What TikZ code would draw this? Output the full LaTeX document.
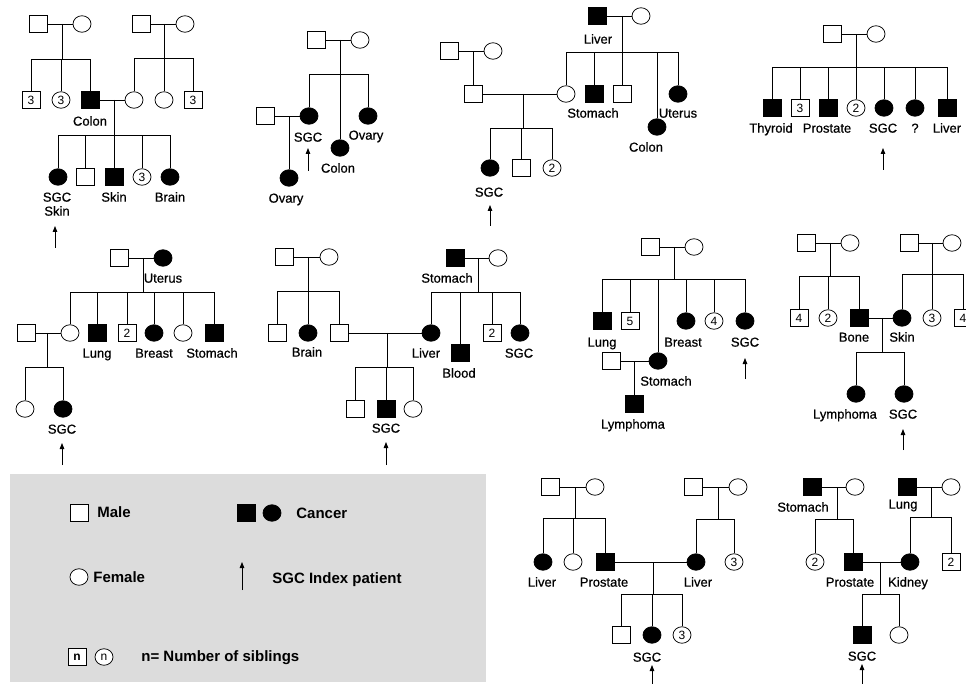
\documentclass[tikz,border=0pt]{standalone}
\usepackage{fontspec}
\setmainfont{Liberation Sans}
\newfontfamily\lblfam{Liberation Sans}[FakeBold=0.6]
\usepackage{tikz}
\usetikzlibrary{positioning, arrows.meta, shapes.geometric}
\definecolor{legbg}{RGB}{220,220,220}
\newcommand{\lblfont}{\lblfam\fontsize{13}{15}\selectfont}
\newcommand{\numfont}{\fontsize{12}{14}\selectfont}
\newcommand{\legfont}{\fontsize{15}{17}\selectfont\bfseries}
\tikzset{
  male/.style={draw, rectangle, minimum width=18pt, minimum height=17pt, inner sep=0pt, fill=white, font=\numfont},
  female/.style={draw, ellipse, minimum width=18pt, minimum height=16.5pt, inner sep=0pt, fill=white, font=\numfont},
  ill/.style={fill=black},
  lbl/.style={font=\lblfont, inner sep=0pt, text height=9.3pt, text depth=0pt},
  leg/.style={font=\legfont, anchor=west, inner sep=0pt, text height=10.8pt, text depth=0pt},
  idx/.style={-{Triangle[length=6pt,width=4.5pt]}, line width=0.8pt}
}

\begin{document}
\begin{tikzpicture}[x=1pt, y=-1pt, line width=0.75pt]
\fill[white] (0,0) rectangle (966,684);
\useasboundingbox (0,0) rectangle (966,684);
% --- Pedigree 1 ---
\node[male] (a1) at (38,24) {};
\node[female] (a2) at (82,24) {};
\draw (a1) -- (a2);
\coordinate (as1) at (62,59);
\draw (as1 |- a1) -- (as1);
\node[male] (a3) at (31,100) {3};
\node[female] (a4) at (61,100) {3};
\node[male, ill] (a5) at (90,100) {};
\draw (a3 |- as1) -- (a5 |- as1);
\foreach \c in {a3,a4,a5} \draw (\c) -- (\c |- as1);
\node[lbl] (a5l) at (90,121) {Colon};
\node[male] (a6) at (141,24) {};
\node[female] (a7) at (185,24) {};
\draw (a6) -- (a7);
\coordinate (as2) at (164,58);
\draw (as2 |- a6) -- (as2);
\node[female] (a8) at (134,100) {};
\node[female] (a9) at (164,100) {};
\node[male] (a10) at (193,100) {3};
\draw (a8 |- as2) -- (a10 |- as2);
\foreach \c in {a8,a9,a10} \draw (\c) -- (\c |- as2);
\draw (a5) -- (a8);
\coordinate (as3) at (114,135);
\draw (as3 |- a5) -- (as3);
\node[female, ill] (a11) at (58,177) {};
\node[male] (a12) at (85,177) {};
\node[male, ill] (a13) at (114,177) {};
\node[female] (a14) at (142,177) {3};
\node[female, ill] (a15) at (170,177) {};
\draw (a11 |- as3) -- (a15 |- as3);
\foreach \c in {a11,a12,a13,a14,a15} \draw (\c) -- (\c |- as3);
\node[lbl] (a11l) at (57,197) {SGC};
\node[lbl] (a11m) at (57,211) {Skin};
\node[lbl] (a13l) at (114,197) {Skin};
\node[lbl] (a15l) at (170,197) {Brain};
\coordinate (ar1) at (55,248);
\draw[idx] (ar1) -- ++(0,-22);

% --- Pedigree 2 ---
\node[male] (b1) at (316,40) {};
\node[female] (b2) at (360,40) {};
\draw (b1) -- (b2);
\coordinate (bs1) at (340,74);
\draw (bs1 |- b1) -- (bs1);
\node[female, ill] (b3) at (309,116) {};
\node[female, ill] (b4) at (340,148) {};
\node[female, ill] (b5) at (368,116) {};
\draw (b3 |- bs1) -- (b5 |- bs1);
\foreach \c in {b3,b4,b5} \draw (\c) -- (\c |- bs1);
\node[lbl] (b3l) at (308,137) {SGC};
\node[lbl] (b4l) at (338,168) {Colon};
\node[lbl] (b5l) at (366,135) {Ovary};
\node[male] (b6) at (265,116) {};
\draw (b6) -- (b3);
\node[female, ill] (b7) at (289,178) {};
\draw (b7) -- (b7 |- b6);
\node[lbl] (b7l) at (286,198) {Ovary};
\coordinate (ar2) at (308,171);
\draw[idx] (ar2) -- ++(0,-23);

% --- Pedigree 3 ---
\node[male, ill] (c1) at (597,16) {};
\node[female] (c2) at (641,16) {};
\draw (c1) -- (c2);
\node[lbl] (c1l) at (598,39) {Liver};
\coordinate (cs1) at (622,52);
\draw (cs1 |- c1) -- (cs1);
\node[female] (c3) at (566,94) {};
\node[male, ill] (c4) at (594,94) {};
\node[male] (c5) at (622,94) {};
\node[female, ill] (c6) at (657,127) {};
\node[female, ill] (c7) at (678,94) {};
\draw (c3 |- cs1) -- (c7 |- cs1);
\foreach \c in {c3,c4,c5,c6,c7} \draw (\c) -- (\c |- cs1);
\node[lbl] (c4l) at (593,113) {Stomach};
\node[lbl] (c7l) at (678,113) {Uterus};
\node[lbl] (c6l) at (646,147) {Colon};
\node[male] (c8) at (449,51) {};
\node[female] (c9) at (493,51) {};
\draw (c8) -- (c9);
\node[male] (c10) at (473,94) {};
\draw (c10) -- (c10 |- c8);
\draw (c10) -- (c3);
\coordinate (cs2) at (523,128);
\draw (cs2 |- c10) -- (cs2);
\node[female, ill] (c11) at (490,168) {};
\node[male] (c12) at (521,168) {};
\node[female] (c13) at (552,168) {2};
\draw (c11 |- cs2) -- (c13 |- cs2);
\foreach \c in {c11,c12,c13} \draw (\c) -- (\c |- cs2);
\node[lbl] (c11l) at (489,192) {SGC};
\coordinate (ar3) at (490,226);
\draw[idx] (ar3) -- ++(0,-21);

% --- Pedigree 4 ---
\node[male] (d1) at (832,34) {};
\node[female] (d2) at (876,34) {};
\draw (d1) -- (d2);
\coordinate (ds1) at (856,67);
\draw (ds1 |- d1) -- (ds1);
\node[male, ill] (d3) at (772,108) {};
\node[male] (d4) at (800,108) {3};
\node[male, ill] (d5) at (828,108) {};
\node[female] (d6) at (856,108) {2};
\node[female, ill] (d7) at (884,108) {};
\node[female, ill] (d8) at (915,108) {};
\node[male, ill] (d9) at (947,108) {};
\draw (d3 |- ds1) -- (d9 |- ds1);
\foreach \c in {d3,d4,d5,d6,d7,d8,d9} \draw (\c) -- (\c |- ds1);
\node[lbl] (d3l) at (771,128) {Thyroid};
\node[lbl] (d5l) at (827,128) {Prostate};
\node[lbl] (d7l) at (883,128) {SGC};
\node[lbl] (d8l) at (915,128) {?};
\node[lbl] (d9l) at (947,128) {Liver};
\coordinate (ar4) at (883,170);
\draw[idx] (ar4) -- ++(0,-22);

% --- Pedigree 5 ---
\node[male] (e1) at (119,258) {};
\node[female, ill] (e2) at (163,258) {};
\draw (e1) -- (e2);
\node[lbl] (e2l) at (163,278) {Uterus};
\coordinate (es1) at (143,292);
\draw (es1 |- e1) -- (es1);
\node[female] (e3) at (70,333) {};
\node[male, ill] (e4) at (97,333) {};
\node[male] (e5) at (127,333) {2};
\node[female, ill] (e6) at (154,333) {};
\node[female] (e7) at (183,333) {};
\node[male, ill] (e8) at (214,333) {};
\draw (e3 |- es1) -- (e8 |- es1);
\foreach \c in {e3,e4,e5,e6,e7,e8} \draw (\c) -- (\c |- es1);
\node[lbl] (e4l) at (97,353) {Lung};
\node[lbl] (e6l) at (154,353) {Breast};
\node[lbl] (e8l) at (212,353) {Stomach};
\node[male] (e9) at (26,333) {};
\draw (e9) -- (e3);
\coordinate (es2) at (47,367);
\draw (es2 |- e9) -- (es2);
\node[female] (e10) at (25,409) {};
\node[female, ill] (e11) at (63,409) {};
\draw (e10 |- es2) -- (e11 |- es2);
\foreach \c in {e10,e11} \draw (\c) -- (\c |- es2);
\node[lbl] (e11l) at (62,429) {SGC};
\coordinate (ar5) at (62,465);
\draw[idx] (ar5) -- ++(0,-22);

% --- Pedigree 6 ---
\node[male] (f1) at (284,257) {};
\node[female] (f2) at (329,257) {};
\draw (f1) -- (f2);
\coordinate (fs1) at (308,291);
\draw (fs1 |- f1) -- (fs1);
\node[male] (f3) at (277,333) {};
\node[female, ill] (f4) at (308,333) {};
\node[male] (f5) at (339,333) {};
\draw (f3 |- fs1) -- (f5 |- fs1);
\foreach \c in {f3,f4,f5} \draw (\c) -- (\c |- fs1);
\node[lbl] (f4l) at (307,352) {Brain};
\node[male, ill] (f6) at (455,258) {};
\node[female] (f7) at (498,258) {};
\draw (f6) -- (f7);
\node[lbl] (f6l) at (447,278) {Stomach};
\coordinate (fs2) at (478,292);
\draw (fs2 |- f6) -- (fs2);
\node[female, ill] (f8) at (431,333) {};
\node[male, ill] (f9) at (460,353) {};
\node[male] (f10) at (492,333) {2};
\node[female, ill] (f11) at (520,333) {};
\draw (f8 |- fs2) -- (f11 |- fs2);
\foreach \c in {f8,f9,f10,f11} \draw (\c) -- (\c |- fs2);
\node[lbl] (f8l) at (426,353) {Liver};
\node[lbl] (f9l) at (459,373) {Blood};
\node[lbl] (f11l) at (519,353) {SGC};
\draw (f5) -- (f8);
\coordinate (fs3) at (387,367);
\draw (fs3 |- f5) -- (fs3);
\node[male] (f12) at (355,409) {};
\node[male, ill] (f13) at (386,409) {};
\node[female] (f14) at (413,409) {};
\draw (f12 |- fs3) -- (f14 |- fs3);
\foreach \c in {f12,f13,f14} \draw (\c) -- (\c |- fs3);
\node[lbl] (f13l) at (386,428) {SGC};
\coordinate (ar6) at (386,465);
\draw[idx] (ar6) -- ++(0,-23);

% --- Pedigree 7 ---
\node[male] (g1) at (650,247) {};
\node[female] (g2) at (694,247) {};
\draw (g1) -- (g2);
\coordinate (gs1) at (674,279);
\draw (gs1 |- g1) -- (gs1);
\node[male, ill] (g3) at (602,321) {};
\node[male] (g4) at (630,321) {5};
\node[female, ill] (g5) at (658,361) {};
\node[female, ill] (g6) at (686,321) {};
\node[female] (g7) at (714,321) {4};
\node[female, ill] (g8) at (745,321) {};
\draw (g3 |- gs1) -- (g8 |- gs1);
\foreach \c in {g3,g4,g5,g6,g7,g8} \draw (\c) -- (\c |- gs1);
\node[lbl] (g3l) at (602,342) {Lung};
\node[lbl] (g6l) at (683,342) {Breast};
\node[lbl] (g8l) at (745,342) {SGC};
\coordinate (ar7) at (745,379);
\draw[idx] (ar7) -- ++(0,-21);
\node[male] (g9) at (611,361) {};
\draw (g9) -- (g5);
\node[male, ill] (g10) at (634,404) {};
\draw (g10) -- (g10 |- g9);
\node[lbl] (g5l) at (666,381) {Stomach};
\node[lbl] (g10l) at (633,424) {Lymphoma};

% --- Pedigree 8 ---
\node[male] (h1) at (806,243) {};
\node[female] (h2) at (850,243) {};
\draw (h1) -- (h2);
\coordinate (hs1) at (830,276);
\draw (hs1 |- h1) -- (hs1);
\node[male] (h3) at (799,318) {4};
\node[female] (h4) at (828,318) {2};
\node[male, ill] (h5) at (859,318) {};
\draw (h3 |- hs1) -- (h5 |- hs1);
\foreach \c in {h3,h4,h5} \draw (\c) -- (\c |- hs1);
\node[male] (h6) at (909,243) {};
\node[female] (h7) at (952,243) {};
\draw (h6) -- (h7);
\coordinate (hs2) at (932,274);
\draw (hs2 |- h6) -- (hs2);
\node[female, ill] (h8) at (902,318) {};
\node[female] (h9) at (932,318) {3};
\node[male] (h10) at (963,318) {4};
\draw (h8 |- hs2) -- (h10 |- hs2);
\foreach \c in {h8,h9,h10} \draw (\c) -- (\c |- hs2);
\node[lbl] (h5l) at (854,337) {Bone};
\node[lbl] (h8l) at (902,337) {Skin};
\draw (h5) -- (h8);
\coordinate (hs3) at (882,352);
\draw (hs3 |- h5) -- (hs3);
\node[female, ill] (h11) at (856,394) {};
\node[female, ill] (h12) at (904,394) {};
\draw (h11 |- hs3) -- (h12 |- hs3);
\foreach \c in {h11,h12} \draw (\c) -- (\c |- hs3);
\node[lbl] (h11l) at (845,414) {Lymphoma};
\node[lbl] (h12l) at (903,414) {SGC};
\coordinate (ar8) at (903,450);
\draw[idx] (ar8) -- ++(0,-21);

% --- Legend ---
\fill[legbg] (10,474) rectangle (486,682);
\node[male] (m1) at (79,513) {};
\node[leg] (m1l) at (97,512) {Male};
\node[male, ill] (m2) at (246,513) {};
\node[female, ill] (m3) at (272,513) {};
\node[leg] (m3l) at (296,513) {Cancer};
\node[female] (m4) at (79,577) {};
\node[leg] (m4l) at (93,577) {Female};
\coordinate (ar0) at (242,590);
\draw[idx] (ar0) -- ++(0,-28);
\node[leg] (m0l) at (272,578) {SGC Index patient};
\node[male, font=\bfseries\numfont] (m5) at (77,657) {n};
\node[female, font=\numfont] (m6) at (104,657) {n};
\node[leg] (m6l) at (141,656) {n= Number of siblings};

% --- Pedigree 9 ---
\node[male] (i1) at (550,487) {};
\node[female] (i2) at (595,487) {};
\draw (i1) -- (i2);
\coordinate (is1) at (575,518);
\draw (is1 |- i1) -- (is1);
\node[female, ill] (i3) at (543,562) {};
\node[female] (i4) at (573,562) {};
\node[male, ill] (i5) at (605,562) {};
\draw (i3 |- is1) -- (i5 |- is1);
\foreach \c in {i3,i4,i5} \draw (\c) -- (\c |- is1);
\node[lbl] (i3l) at (542,582) {Liver};
\node[lbl] (i5l) at (604,582) {Prostate};
\node[male] (i6) at (693,487) {};
\node[female] (i7) at (738,487) {};
\draw (i6) -- (i7);
\coordinate (is2) at (718,519);
\draw (is2 |- i6) -- (is2);
\node[female, ill] (i8) at (696,562) {};
\node[female] (i9) at (734,562) {3};
\draw (i8 |- is2) -- (i9 |- is2);
\foreach \c in {i8,i9} \draw (\c) -- (\c |- is2);
\node[lbl] (i8l) at (698,582) {Liver};
\draw (i5) -- (i8);
\coordinate (is3) at (653,594);
\draw (is3 |- i5) -- (is3);
\node[male] (i10) at (621,635) {};
\node[female, ill] (i11) at (652,635) {};
\node[female] (i12) at (682,635) {3};
\draw (i10 |- is3) -- (i12 |- is3);
\foreach \c in {i10,i11,i12} \draw (\c) -- (\c |- is3);
\node[lbl] (i11l) at (647,657) {SGC};
\coordinate (ar9) at (652,684);
\draw[idx] (ar9) -- ++(0,-19);

% --- Pedigree 10 ---
\node[male, ill] (j1) at (812,487) {};
\node[female] (j2) at (855,487) {};
\draw (j1) -- (j2);
\node[lbl] (j1l) at (803,507) {Stomach};
\coordinate (js1) at (837,519);
\draw (js1 |- j1) -- (js1);
\node[female] (j3) at (815,562) {2};
\node[male, ill] (j4) at (853,562) {};
\draw (j3 |- js1) -- (j4 |- js1);
\foreach \c in {j3,j4} \draw (\c) -- (\c |- js1);
\node[male, ill] (j5) at (907,487) {};
\node[female] (j6) at (951,487) {};
\draw (j5) -- (j6);
\node[lbl] (j5l) at (903,504) {Lung};
\coordinate (js2) at (931,517);
\draw (js2 |- j5) -- (js2);
\node[female, ill] (j7) at (910,562) {};
\node[male] (j8) at (951,562) {2};
\draw (j7 |- js2) -- (j8 |- js2);
\foreach \c in {j7,j8} \draw (\c) -- (\c |- js2);
\node[lbl] (j4l) at (850,582) {Prostate};
\node[lbl] (j7l) at (908,582) {Kidney};
\draw (j4) -- (j7);
\coordinate (js3) at (880,594);
\draw (js3 |- j4) -- (js3);
\node[male, ill] (j9) at (862,635) {};
\node[female] (j10) at (899,635) {};
\draw (j9 |- js3) -- (j10 |- js3);
\foreach \c in {j9,j10} \draw (\c) -- (\c |- js3);
\node[lbl] (j9l) at (862,656) {SGC};
\coordinate (ar10) at (862,684);
\draw[idx] (ar10) -- ++(0,-20);
\end{tikzpicture}
\end{document}
